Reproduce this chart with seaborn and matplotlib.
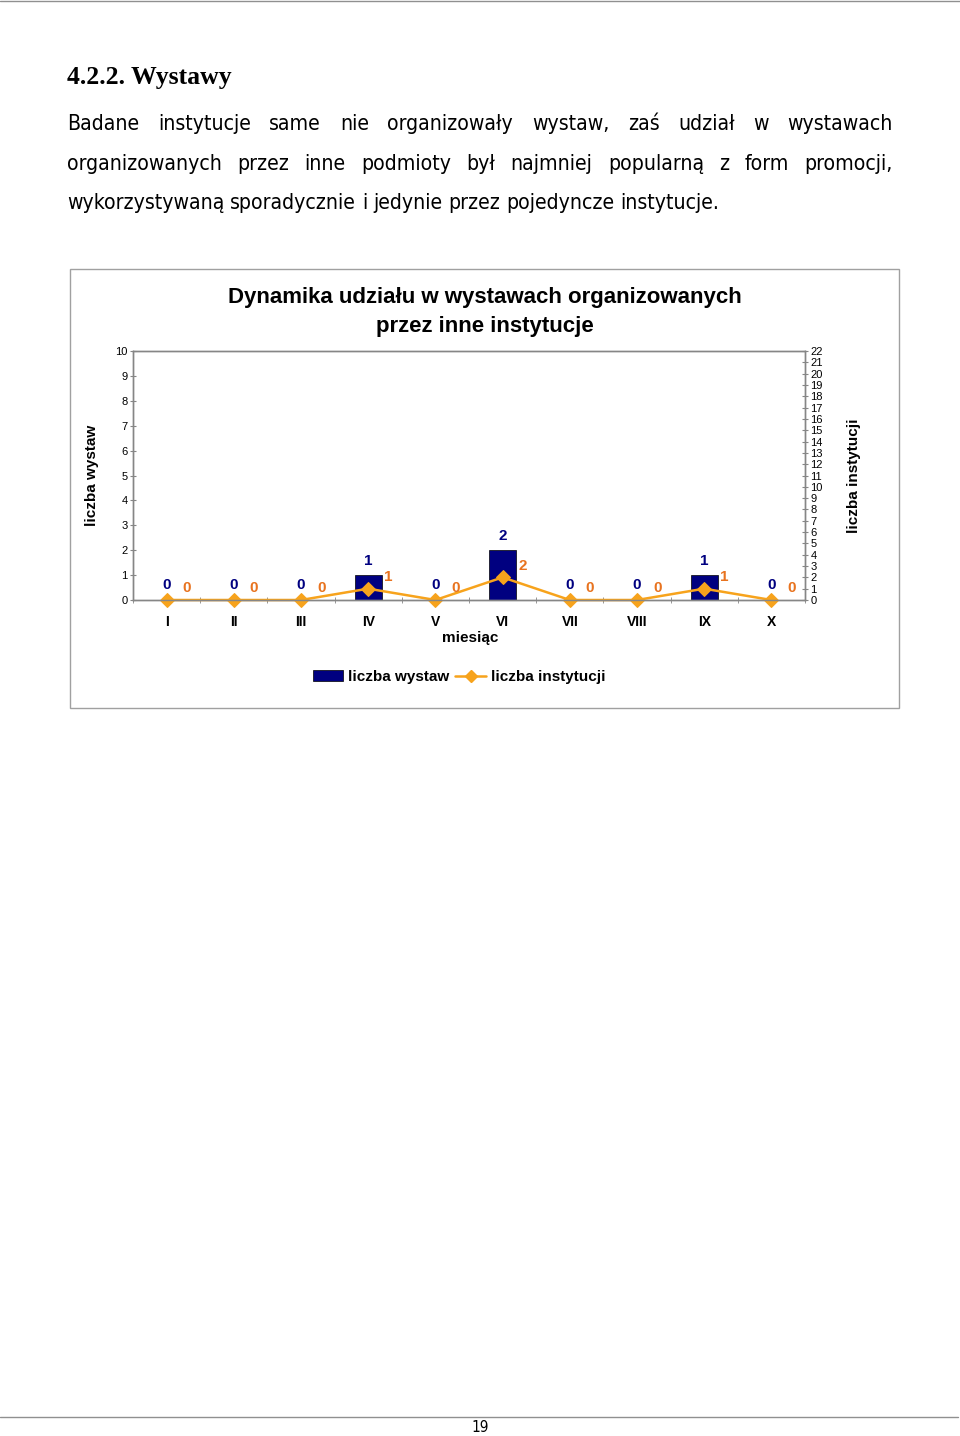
import matplotlib
matplotlib.use("Agg")
import matplotlib.pyplot as plt
import seaborn as sns
import numpy as np
from matplotlib.patches import Patch, Rectangle
from matplotlib.lines import Line2D

# Data
months = ["I", "II", "III", "IV", "V", "VI", "VII", "VIII", "IX", "X"]
wystawy = [0, 0, 0, 1, 0, 2, 0, 0, 1, 0]
instytucje = [0, 0, 0, 1, 0, 2, 0, 0, 1, 0]

heading = "4.2.2. Wystawy"
paragraph = [
    "Badane instytucje same nie organizowały wystaw, zaś udział w wystawach",
    "organizowanych przez inne podmioty był najmniej popularną z form promocji,",
    "wykorzystywaną sporadycznie i jedynie przez pojedyncze instytucje.",
]
title = "Dynamika udziału w wystawach organizowanych\nprzez inne instytucje"

navy = "#000080"
line_orange = "#F7A31C"
label_orange = "#E8731F"
grey = "#868686"

sns.set_style("white")
plt.rcParams["font.family"] = ["Liberation Sans", "DejaVu Sans"]
plt.rcParams["text.color"] = "black"
plt.rcParams["axes.labelcolor"] = "black"
plt.rcParams["xtick.color"] = "black"
plt.rcParams["ytick.color"] = "black"

W, H = 960, 1436
fig = plt.figure(figsize=(W / 100, H / 100), dpi=100)


def px(x, y):
    return x / W, 1 - y / H


renderer = fig.canvas.get_renderer()

# page heading and paragraph
fig.text(*px(67, 84), heading, family="Liberation Serif", weight="bold",
         fontsize=18.5, va="baseline", ha="left")

para_kw = dict(family="DejaVu Sans", stretch="condensed", va="baseline", ha="left")
probe = fig.text(0, 0, paragraph[2], fontsize=10, **para_kw)
para_size = 10 * 655 / probe.get_window_extent(renderer).width
probe.remove()


def justify(line, y, x0, x1, last=False):
    words = line.split(" ")
    texts = [fig.text(0, 0, w, fontsize=para_size, **para_kw) for w in words]
    widths = [t.get_window_extent(renderer).width for t in texts]
    if last:
        sp = fig.text(0, 0, "a a", fontsize=para_size, **para_kw)
        sp2 = fig.text(0, 0, "aa", fontsize=para_size, **para_kw)
        gap = sp.get_window_extent(renderer).width - sp2.get_window_extent(renderer).width
        sp.remove(); sp2.remove()
    else:
        gap = (x1 - x0 - sum(widths)) / (len(words) - 1)
    x = x0
    for t, w in zip(texts, widths):
        t.set_position(px(x, y))
        x += w + gap


for i, (line, y) in enumerate(zip(paragraph, [130, 170, 209])):
    justify(line, y, 67, 893, last=(i == len(paragraph) - 1))

# chart frame
fig.add_artist(Rectangle(px(70, 708), 829 / W, 439 / H, transform=fig.transFigure,
                         fill=False, edgecolor="#A0A0A0", lw=1))

# page rules and number
fig.add_artist(Line2D([0, 1], [1 - 1 / H] * 2, color="#909090", lw=1))
fig.add_artist(Line2D([0, 958 / W], [1 - 1417 / H] * 2, color="#909090", lw=1))
fig.text(*px(480, 1428), "19", fontsize=11, ha="center", va="center",
         family="DejaVu Sans", stretch="condensed")

# axes
l, b = px(133, 600)
ax = fig.add_axes([l, b, 672 / W, 249 / H])
sns.barplot(x=months, y=wystawy, color=navy, saturation=1, width=0.4,
            edgecolor="black", linewidth=0.5, ax=ax)
ax.set_xlim(-0.5, len(months) - 0.5)
ax.set_ylim(0, 10)
ax.set_yticks(range(0, 11))
ax.tick_params(axis="y", labelsize=8, length=4, color=grey, direction="inout", pad=2, left=True)
ax.set_xticks(range(len(months)))
ax.set_xticklabels(months, fontsize=10, weight="bold")
ax.set_xticks(np.arange(-0.5, len(months), 1), minor=True)
ax.tick_params(axis="x", which="major", length=0, pad=11)
ax.tick_params(axis="x", which="minor", length=4, color=grey, direction="inout", bottom=True)
ax.set_xlabel("miesiąc", fontsize=11, weight="bold")
ax.xaxis.set_label_coords((470 - 133) / 672, -(631 - 600) / 249)
ax.set_ylabel("liczba wystaw", fontsize=11, weight="bold")
ax.yaxis.set_label_coords(-(133 - 99) / 672, 0.5)
for s in ax.spines.values():
    s.set_color(grey)
    s.set_linewidth(1)

for i, v in enumerate(wystawy):
    ax.annotate(str(v), (i, v), xytext=(0, 10.5), textcoords="offset points",
                ha="center", va="center", color=navy, fontsize=11, weight="bold")

ax2 = ax.twinx()
sns.lineplot(x=np.arange(len(months)), y=instytucje, ax=ax2, color=line_orange,
             linewidth=1.8, marker="D", markersize=7, markeredgecolor=line_orange,
             clip_on=False)
ax2.set_xlim(-0.5, len(months) - 0.5)
ax2.set_ylim(0, 22)
ax2.set_yticks(range(0, 23))
ax2.tick_params(axis="y", labelsize=8, length=4, color=grey, direction="inout", pad=2, right=True)
ax2.set_ylabel("liczba instytucji", fontsize=11, weight="bold")
ax2.yaxis.set_label_coords((847 - 133) / 672, 0.5)
for s in ax2.spines.values():
    s.set_color(grey)
    s.set_linewidth(1)

for i, v in enumerate(instytucje):
    ax2.annotate(str(v), (i, v), xytext=(14.5, 8.5), textcoords="offset points",
                 ha="center", va="center", color=label_orange, fontsize=11, weight="bold")

handles = [Patch(facecolor=navy, edgecolor="black", lw=0.5),
           Line2D([], [], color=line_orange, lw=1.8, marker="D", markersize=6)]
ax.legend(handles, ["liczba wystaw", "liczba instytucji"], ncol=2, frameon=False,
          loc="center", bbox_to_anchor=px(459, 677), bbox_transform=fig.transFigure,
          prop=dict(size=11, weight="bold"), handlelength=2, handletextpad=0.3,
          columnspacing=0.4)

fig.text(*px(485, 312), title, ha="center", va="center", fontsize=16,
         weight="bold", linespacing=1.45)

fig.savefig("out.png", dpi=100)
